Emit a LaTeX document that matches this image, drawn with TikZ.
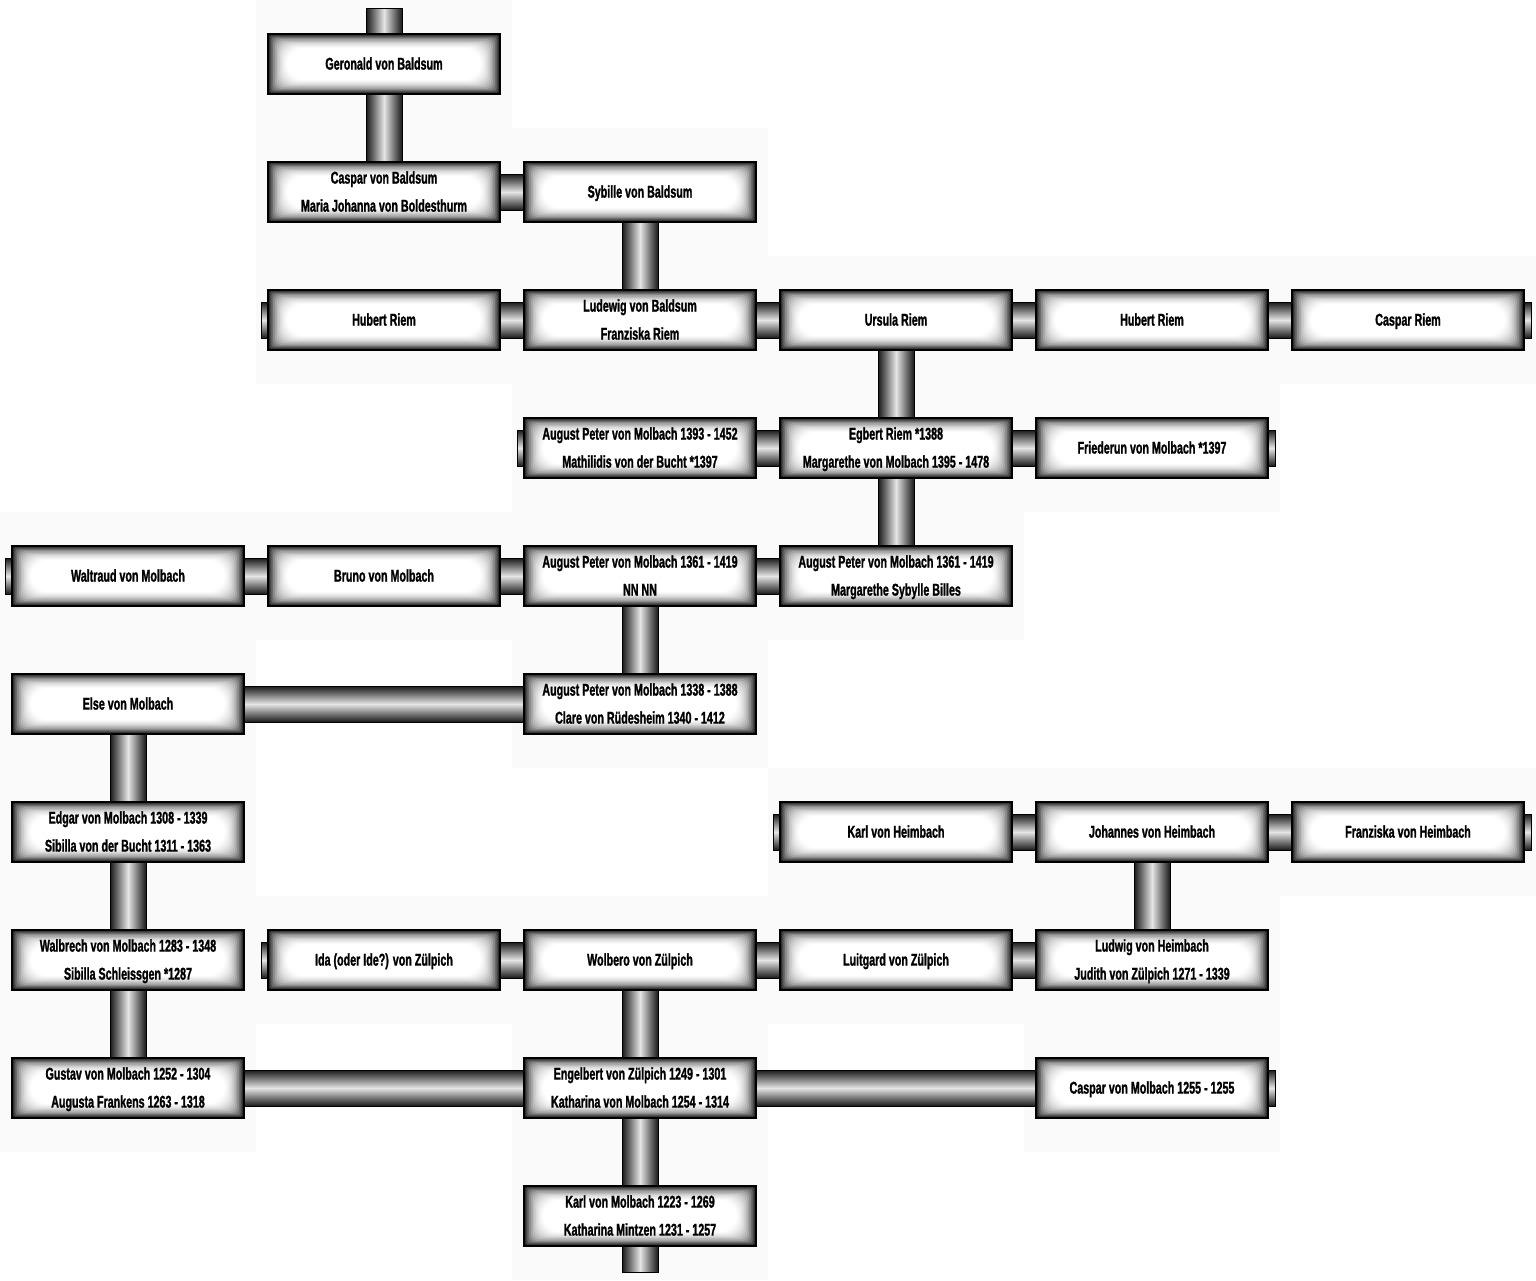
\documentclass[tikz,border=0pt]{standalone}
\usepackage{fontspec}
\newfontfamily\namefont{Liberation Sans}[FakeStretch=0.63, BoldFeatures={FakeBold=1.3}]
\usetikzlibrary{calc,positioning}

\newcommand{\hlink}[2]{\path[hbar] ($(#1)+(0,-18)$) rectangle ($(#2)+(0,18)$);}
\newcommand{\vlink}[2]{\path[vbar] ($(#1)+(-18,0)$) rectangle ($(#2)+(18,0)$);}
\newcommand{\twolines}[2]{\strut#1\\#2\strut}

\begin{document}
\begin{tikzpicture}[
	%	style def
    x=1pt, y=-1pt,
    cellbg/.style={fill=black!2},
    boxglow/.style={path picture={
        \foreach \k/\g in {0/88,1/72,2/58,3/46,4/36,5/27,6/20,7/14,8/9,9/5,10/2}{
            \pgfmathsetmacro\rc{\k*1.6}
            \fill[black!\g, rounded corners=\rc pt]
                ($(path picture bounding box.south west)+(\k*1.7pt,\k*1.3pt)$) rectangle
                ($(path picture bounding box.north east)-(\k*1.7pt,\k*1.3pt)$);
        }
        \fill[white, rounded corners=17pt]
            ($(path picture bounding box.south west)+(19pt,14pt)$) rectangle
            ($(path picture bounding box.north east)-(19pt,14pt)$);
    }},
    person/.style={draw=black, line width=1.2pt, fill=white, minimum width=232pt,
        minimum height=60pt, inner sep=0pt, align=center, boxglow,
        font=\namefont\bfseries\fontsize{17}{28}\selectfont,
        execute at begin node=\strut, execute at end node=\strut},
    hbar/.style={draw=black, line width=0.8pt, top color=black!90, bottom color=black!90, middle color=black!10},
    vbar/.style={draw=black, line width=0.8pt, left color=black!90, right color=black!90, middle color=black!10}
    ]
    \useasboundingbox (0,0) rectangle (1536,1280);

    % light cells behind the boxes
    \foreach \c/\r in {1/0,1/1,2/1,1/2,2/2,3/2,4/2,5/2,2/3,3/3,4/3,0/4,1/4,2/4,3/4,0/5,2/5,
        0/6,3/6,4/6,5/6,0/7,1/7,2/7,3/7,4/7,0/8,2/8,4/8,2/9}
        \fill[cellbg] (\c*256,\r*128) rectangle +(256,128);

    % row 0 - 2
    \node[person] (geronald) at (384,64) {Geronald von Baldsum};
    \node[person] (caspar) at (384,192) {\twolines{Caspar von Baldsum}{Maria Johanna von Boldesthurm}};
    \node[person] (sybille) at (640,192) {Sybille von Baldsum};
    \node[person] (hubertL) at (384,320) {Hubert Riem};
    \node[person] (ludewig) at (640,320) {\twolines{Ludewig von Baldsum}{Franziska Riem}};
    \node[person] (ursula) at (896,320) {Ursula Riem};
    \node[person] (hubertR) at (1152,320) {Hubert Riem};
    \node[person] (casparR) at (1408,320) {Caspar Riem};
    % row 3 - 5
    \node[person] (apA) at (640,448) {\twolines{August Peter von Molbach 1393 - 1452}{Mathilidis von der Bucht *1397}};
    \node[person] (egbert) at (896,448) {\twolines{Egbert Riem *1388}{Margarethe von Molbach 1395 - 1478}};
    \node[person] (friederun) at (1152,448) {Friederun von Molbach *1397};
    \node[person] (waltraud) at (128,576) {Waltraud von Molbach};
    \node[person] (bruno) at (384,576) {Bruno von Molbach};
    \node[person] (apB) at (640,576) {\twolines{August Peter von Molbach 1361 - 1419}{NN NN}};
    \node[person] (apC) at (896,576) {\twolines{August Peter von Molbach 1361 - 1419}{Margarethe Sybylle Billes}};
    \node[person] (elseM) at (128,704) {Else von Molbach};
    \node[person] (apD) at (640,704) {\twolines{August Peter von Molbach 1338 - 1388}{Clare von Rüdesheim 1340 - 1412}};
    % row 6 - 9
    \node[person] (edgar) at (128,832) {\twolines{Edgar von Molbach 1308 - 1339}{Sibilla von der Bucht 1311 - 1363}};
    \node[person] (karlH) at (896,832) {Karl von Heimbach};
    \node[person] (johannes) at (1152,832) {Johannes von Heimbach};
    \node[person] (franziska) at (1408,832) {Franziska von Heimbach};
    \node[person] (walbrech) at (128,960) {\twolines{Walbrech von Molbach 1283 - 1348}{Sibilla Schleissgen *1287}};
    \node[person] (ida) at (384,960) {Ida (oder Ide?) von Zülpich};
    \node[person] (wolbero) at (640,960) {Wolbero von Zülpich};
    \node[person] (luitgard) at (896,960) {Luitgard von Zülpich};
    \node[person] (ludwig) at (1152,960) {\twolines{Ludwig von Heimbach}{Judith von Zülpich 1271 - 1339}};
    \node[person] (gustav) at (128,1088) {\twolines{Gustav von Molbach 1252 - 1304}{Augusta Frankens 1263 - 1318}};
    \node[person] (engelbert) at (640,1088) {\twolines{Engelbert von Zülpich 1249 - 1301}{Katharina von Molbach 1254 - 1314}};
    \node[person] (casparM) at (1152,1088) {Caspar von Molbach 1255 - 1255};
    \node[person] (karlM) at (640,1216) {\twolines{Karl von Molbach 1223 - 1269}{Katharina Mintzen 1231 - 1257}};

    % free ends
    \coordinate (topEnd) at (384,8);
    \coordinate (botEnd) at (640,1272);
    \coordinate (endA) at (261,320);
    \coordinate (endB) at (1531,320);
    \coordinate (endC) at (517,448);
    \coordinate (endD) at (1275,448);
    \coordinate (endE) at (5,576);
    \coordinate (endF) at (773,832);
    \coordinate (endG) at (1531,832);
    \coordinate (endH) at (261,960);
    \coordinate (endI) at (1275,1088);

    % vertical bars
    \vlink{topEnd}{geronald.north}
    \vlink{geronald.south}{caspar.north}
    \vlink{sybille.south}{ludewig.north}
    \vlink{ursula.south}{egbert.north}
    \vlink{egbert.south}{apC.north}
    \vlink{apB.south}{apD.north}
    \vlink{elseM.south}{edgar.north}
    \vlink{edgar.south}{walbrech.north}
    \vlink{walbrech.south}{gustav.north}
    \vlink{johannes.south}{ludwig.north}
    \vlink{wolbero.south}{engelbert.north}
    \vlink{engelbert.south}{karlM.north}
    \vlink{karlM.south}{botEnd}

    % horizontal bars
    \hlink{caspar.east}{sybille.west}
    \hlink{endA}{hubertL.west}
    \hlink{hubertL.east}{ludewig.west}
    \hlink{ludewig.east}{ursula.west}
    \hlink{ursula.east}{hubertR.west}
    \hlink{hubertR.east}{casparR.west}
    \hlink{casparR.east}{endB}
    \hlink{endC}{apA.west}
    \hlink{apA.east}{egbert.west}
    \hlink{egbert.east}{friederun.west}
    \hlink{friederun.east}{endD}
    \hlink{endE}{waltraud.west}
    \hlink{waltraud.east}{bruno.west}
    \hlink{bruno.east}{apB.west}
    \hlink{apB.east}{apC.west}
    \hlink{elseM.east}{apD.west}
    \hlink{endF}{karlH.west}
    \hlink{karlH.east}{johannes.west}
    \hlink{johannes.east}{franziska.west}
    \hlink{franziska.east}{endG}
    \hlink{endH}{ida.west}
    \hlink{ida.east}{wolbero.west}
    \hlink{wolbero.east}{luitgard.west}
    \hlink{luitgard.east}{ludwig.west}
    \hlink{gustav.east}{engelbert.west}
    \hlink{engelbert.east}{casparM.west}
    \hlink{casparM.east}{endI}
\end{tikzpicture}
\end{document}
